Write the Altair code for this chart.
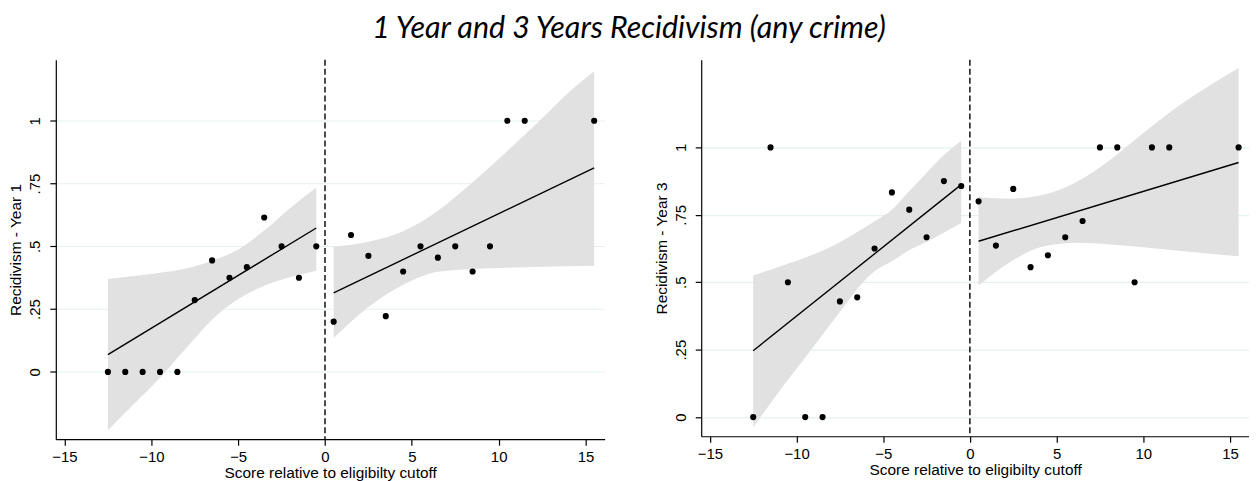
import altair as alt
import pandas as pd

# ---- data ----
score = [-12.5, -11.5, -10.5, -9.5, -8.5, -7.5, -6.5, -5.5, -4.5, -3.5, -2.5, -1.5, -0.5,
         0.5, 1.5, 2.5, 3.5, 4.5, 5.5, 6.5, 7.5, 8.5, 9.5, 10.5, 11.5, 15.5]
recid_y1 = [0, 0, 0, 0, 0, 0.286, 0.444, 0.375, 0.417, 0.615, 0.5, 0.375, 0.5,
            0.2, 0.545, 0.462, 0.222, 0.4, 0.5, 0.455, 0.5, 0.4, 0.5, 1, 1, 1]
recid_y3 = [0, 1, 0.5, 0, 0, 0.429, 0.444, 0.625, 0.833, 0.769, 0.667, 0.875, 0.857,
            0.8, 0.636, 0.846, 0.556, 0.6, 0.667, 0.727, 1, 1, 0.5, 1, 1, 1]

# fitted lines (end points of each side of the cutoff)
fit_x = [-12.5, -0.5, 0.5, 15.5]
fit_side = ["below", "below", "above", "above"]
fit_y1 = [0.069, 0.573, 0.315, 0.812]
fit_y3 = [0.246, 0.862, 0.652, 0.944]

# confidence bands, Year 1
band1_below_x = [-12.5, -11, -9.5, -8, -6.5, -5, -3.5, -2, -0.5]
band1_below_lo = [-0.232, -0.128, -0.023, 0.094, 0.208, 0.290, 0.343, 0.378, 0.403]
band1_below_hi = [0.370, 0.382, 0.395, 0.412, 0.443, 0.487, 0.563, 0.653, 0.734]
band1_above_x = [0.5, 2.5, 4.5, 6.5, 8.5, 10.5, 12.5, 14, 15.5]
band1_above_lo = [0.135, 0.258, 0.347, 0.399, 0.410, 0.415, 0.419, 0.421, 0.423]
band1_above_hi = [0.498, 0.518, 0.560, 0.642, 0.755, 0.880, 1.010, 1.111, 1.197]

# confidence bands, Year 3
band3_below_x = [-12.5, -11.2, -9.3, -7.4, -6.45, -5.5, -4.5, -3.6, -2.6, -1.7, -0.5]
band3_below_lo = [-0.039, 0.078, 0.238, 0.399, 0.479, 0.541, 0.578, 0.615, 0.646, 0.677, 0.720]
band3_below_hi = [0.525, 0.553, 0.596, 0.652, 0.688, 0.726, 0.769, 0.831, 0.899, 0.960, 1.025]
band3_above_x = [0.5, 2.4, 4.3, 6.2, 8.1, 10.0, 12.0, 13.9, 15.5]
band3_above_lo = [0.488, 0.578, 0.633, 0.646, 0.640, 0.630, 0.617, 0.606, 0.596]
band3_above_hi = [0.815, 0.810, 0.825, 0.874, 0.954, 1.053, 1.152, 1.232, 1.294]

cutoff = [0]
x_ticks = [-15, -10, -5, 0, 5, 10, 15]
y_ticks = [0, 0.25, 0.5, 0.75, 1]

main_title = "1 Year and 3 Years Recidivism (any crime)"
x_title = "Score relative to eligibilty cutoff"

LABEL_EXPR = ("datum.value == 0 ? '0' : datum.value == 1 ? '1' : "
              "replace(format(datum.value, '.2~f'), '0.', '.')")


def panel(yvals, fity, bbx, bblo, bbhi, bax, balo, bahi, ytitle, ydomain, w, h):
    xs = alt.Scale(domain=[-15.5, 16.1], nice=False, zero=False)
    ys = alt.Scale(domain=ydomain, nice=False, zero=False)
    xax = alt.Axis(values=x_ticks, title=x_title, grid=False)
    yax = alt.Axis(values=y_ticks, title=ytitle, grid=True, labelExpr=LABEL_EXPR)

    pts = pd.DataFrame({"score": score, "value": yvals})
    fit = pd.DataFrame({"score": fit_x, "value": fity, "side": fit_side})
    band = pd.DataFrame({
        "score": list(bbx) + list(bax),
        "lo": list(bblo) + list(balo),
        "hi": list(bbhi) + list(bahi),
        "side": ["below"] * len(bbx) + ["above"] * len(bax),
    })
    cut = pd.DataFrame({"score": cutoff})

    area = alt.Chart(band).mark_area(color="#e1e1e1", opacity=1, interpolate="monotone").encode(
        x=alt.X("score:Q", scale=xs, axis=xax),
        y=alt.Y("lo:Q", scale=ys, axis=yax),
        y2="hi:Q",
        detail="side:N",
    )
    line = alt.Chart(fit).mark_line(color="black", strokeWidth=1.4).encode(
        x=alt.X("score:Q", scale=xs, axis=xax),
        y=alt.Y("value:Q", scale=ys, axis=yax),
        detail="side:N",
    )
    dots = alt.Chart(pts).mark_circle(color="black", opacity=1, size=38).encode(
        x=alt.X("score:Q", scale=xs, axis=xax),
        y=alt.Y("value:Q", scale=ys, axis=yax),
    )
    rule = alt.Chart(cut).mark_rule(color="black", strokeWidth=1.4, strokeDash=[6, 3]).encode(
        x=alt.X("score:Q", scale=xs, axis=xax),
    )
    return alt.layer(area, line, dots, rule).properties(width=w, height=h)


left = panel(recid_y1, fit_y1, band1_below_x, band1_below_lo, band1_below_hi,
             band1_above_x, band1_above_lo, band1_above_hi,
             "Recidivism - Year 1", [-0.268, 1.243], 551, 381)
right = panel(recid_y3, fit_y3, band3_below_x, band3_below_lo, band3_below_hi,
              band3_above_x, band3_above_lo, band3_above_hi,
              "Recidivism - Year 3", [-0.071, 1.325], 550, 378)

chart = alt.hconcat(left, right, spacing=50).properties(
    title=alt.TitleParams(main_title, font="Lato", fontStyle="italic", fontSize=30.5,
                          fontWeight="normal", anchor="middle", color="black", offset=15),
    padding={"left": 0, "top": 4, "right": 0, "bottom": 0},
).configure_view(strokeWidth=0).configure_axis(
    domainColor="black", tickColor="black", labelColor="black", titleColor="black",
    labelFont="Liberation Sans", titleFont="Liberation Sans", labelFontSize=15,
    titleFontSize=15.5, titleFontWeight="normal", tickSize=6, domainWidth=1.2, tickWidth=1.2,
    gridColor="#e6eff1", gridWidth=1.2,
).configure_axisX(labelPadding=4, titlePadding=1).configure_axisY(
    labelAngle=270, labelPadding=7, titlePadding=4,
)

chart.save("out.html", embed_options={"renderer": "svg", "actions": False})
